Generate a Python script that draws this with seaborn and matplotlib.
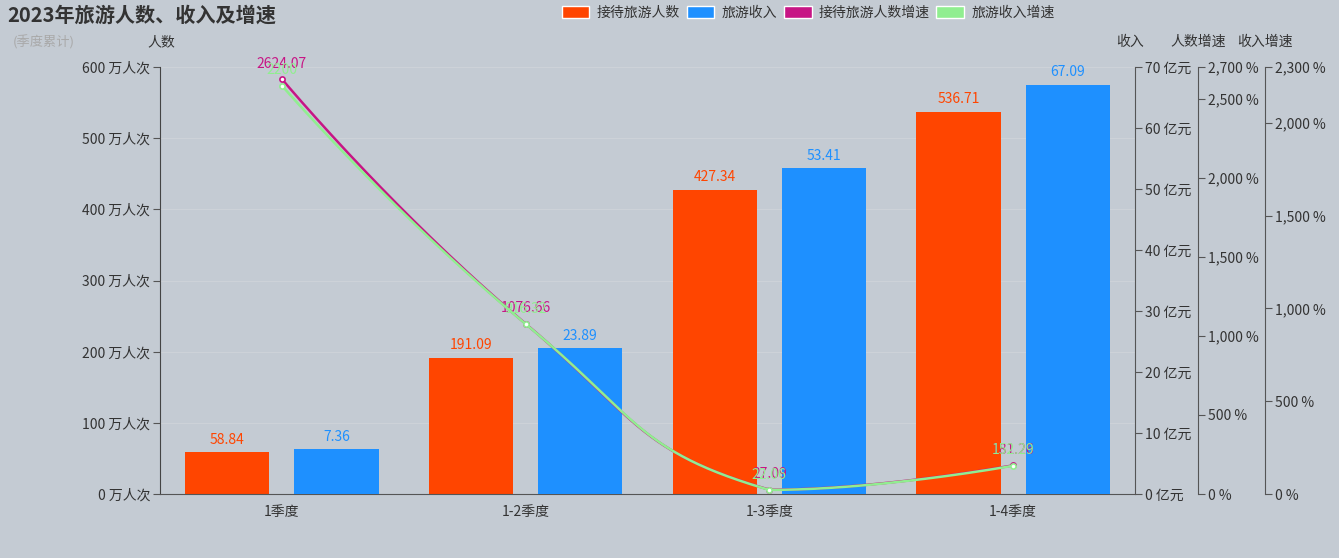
import numpy as np
import pandas as pd
import seaborn as sns
import matplotlib.pyplot as plt
from matplotlib.patches import Patch
from matplotlib.ticker import FuncFormatter, FixedLocator

# 2023年旅游人数、收入及增速（季度累计）
quarters = ['1季度', '1-2季度', '1-3季度', '1-4季度']
visitors = [58.84, 191.09, 427.34, 536.71]          # 万人次
income = [7.36, 23.89, 53.41, 67.09]                # 亿元
visitors_growth = [2624.07, 1076.66, 27.09, 181.26]  # %
income_growth = [2200, 916.32, 22.06, 152.29]        # %

sns.set_style('white')
plt.rcParams['font.family'] = ['Noto Sans CJK SC', 'DejaVu Sans']
plt.rcParams['axes.unicode_minus'] = False

bg = '#c4cbd3'
txt = '#333333'
c_vis, c_inc = '#ff4500', '#1e90ff'
c_vg, c_ig = '#c71585', '#90ee90'
fs = 10

df = pd.DataFrame({'季度': quarters, '人数': visitors, '收入': income,
                   '人数增速': visitors_growth, '收入增速': income_growth})
df['x'] = np.arange(len(df))

fig = plt.figure(figsize=(13.39, 5.58), dpi=100, facecolor=bg)
ax = fig.add_axes([160 / 1339, 64 / 558, 975 / 1339, 427 / 558], facecolor=bg)
ax_inc = ax.twinx()
ax_vg = ax.twinx()
ax_ig = ax.twinx()


def smooth(x, y, ymax, s=0.5, n=60):
    # bezier smoothing like echarts: control points from neighbours, clamped to data range
    x = np.asarray(x, float)
    y = np.asarray(y, float)
    sx, sy = 243.75, 427 / ymax
    px, py = x * sx, y * sy
    lo, hi = py.min(), py.max()
    N = len(px)
    cps = []
    for i in range(N):
        if i == 0 or i == N - 1:
            cps.append(((px[i], py[i]), (px[i], py[i])))
            continue
        vx = (px[i + 1] - px[i - 1]) * s
        vy = (py[i + 1] - py[i - 1]) * s
        d0 = np.hypot(px[i] - px[i - 1], py[i] - py[i - 1])
        d1 = np.hypot(px[i + 1] - px[i], py[i + 1] - py[i])
        r0, r1 = d0 / (d0 + d1), d1 / (d0 + d1)
        c0 = (px[i] - vx * r0, np.clip(py[i] - vy * r0, lo, hi))
        c1 = (px[i] + vx * r1, np.clip(py[i] + vy * r1, lo, hi))
        cps.append((c0, c1))
    t = np.linspace(0, 1, n)[:, None]
    out = []
    for i in range(N - 1):
        p0 = np.array([px[i], py[i]])
        p1 = np.array(cps[i][1])
        p2 = np.array(cps[i + 1][0])
        p3 = np.array([px[i + 1], py[i + 1]])
        out.append((1 - t)**3 * p0 + 3 * (1 - t)**2 * t * p1 + 3 * (1 - t) * t**2 * p2 + t**3 * p3)
    out = np.vstack(out)
    return out[:, 0] / sx, out[:, 1] / sy


w = 0.345
off = 0.224
b1 = ax.bar(df['x'] - off, df['人数'], width=w, color=c_vis, lw=0, zorder=2)
b2 = ax_inc.bar(df['x'] + off, df['收入'], width=w, color=c_inc, lw=0, zorder=2)
ax.bar_label(b1, labels=[f'{v:.2f}' for v in visitors], padding=4, color=c_vis, fontsize=fs)
ax_inc.bar_label(b2, labels=[f'{v:.2f}' for v in income], padding=4, color=c_inc, fontsize=fs)

for a, col, color, ymax in [(ax_ig, '收入增速', c_ig, 2300), (ax_vg, '人数增速', c_vg, 2700)]:
    sx, sy = smooth(df['x'], df[col], ymax)
    sns.lineplot(x=sx, y=sy, ax=a, color=color, lw=1.8, sort=False, zorder=3)
    a.scatter(df['x'], df[col], s=14, facecolor='white', edgecolor=color, lw=1.2, zorder=4)
    for xi, v in zip(df['x'], df[col]):
        lab = f'{v:.0f}' if v == int(v) else f'{v:.2f}'
        a.annotate(lab, (xi, v), xytext=(0, 6), textcoords='offset points',
                   ha='center', va='bottom', color=color, fontsize=fs, zorder=5)

# axes limits and ticks
ax.set_xlim(-0.5, 3.5)
ax.set_ylim(0, 600)
ax_inc.set_ylim(0, 70)
ax_vg.set_ylim(0, 2700)
ax_ig.set_ylim(0, 2300)

ax.set_xticks(df['x'])
ax.set_xticklabels(quarters, fontsize=fs, color=txt)
ax.xaxis.set_minor_locator(FixedLocator([0.5, 1.5, 2.5]))
ax.tick_params(axis='x', which='major', length=0, pad=8)
ax.tick_params(axis='x', which='minor', length=5, color='#555555', direction='out')
ax.set_yticks(range(0, 601, 100))
ax.yaxis.set_major_formatter(FuncFormatter(lambda v, p: f'{v:.0f} 万人次'))
ax.tick_params(axis='y', length=5, color='#555555', labelsize=fs, labelcolor=txt,
               direction='out', pad=2)
ax.yaxis.grid(True, color='#cdd2d8', lw=0.8)
ax.set_axisbelow(True)

ax_inc.set_yticks(range(0, 71, 10))
ax_inc.yaxis.set_major_formatter(FuncFormatter(lambda v, p: f'{v:.0f} 亿元'))
ax_vg.set_yticks([0, 500, 1000, 1500, 2000, 2500, 2700])
ax_vg.yaxis.set_major_formatter(FuncFormatter(lambda v, p: f'{v:,.0f} %'))
ax_ig.set_yticks([0, 500, 1000, 1500, 2000, 2300])
ax_ig.yaxis.set_major_formatter(FuncFormatter(lambda v, p: f'{v:,.0f} %'))

ax_vg.spines['right'].set_position(('axes', 1 + 63 / 975))
ax_ig.spines['right'].set_position(('axes', 1 + 130 / 975))

for a in [ax, ax_inc, ax_vg, ax_ig]:
    for s in a.spines.values():
        s.set_visible(False)
    a.set_ylabel('')
ax.spines['left'].set_visible(True)
ax.spines['bottom'].set_visible(True)
ax.spines['left'].set_color('#444444')
ax.spines['bottom'].set_color('#555555')
for a in [ax_inc, ax_vg, ax_ig]:
    a.spines['right'].set_visible(True)
    a.spines['right'].set_color('#555555')
    a.tick_params(axis='y', length=5, color='#555555', labelsize=fs, labelcolor=txt,
                  direction='out', pad=2)

# axis names
fig.text(161 / 1339, 1 - 42 / 558, '人数', ha='center', va='center', fontsize=fs, color=txt)
fig.text(1130 / 1339, 1 - 42 / 558, '收入', ha='center', va='center', fontsize=fs, color=txt)
fig.text(1198 / 1339, 1 - 42 / 558, '人数增速', ha='center', va='center', fontsize=fs, color=txt)
fig.text(1265 / 1339, 1 - 42 / 558, '收入增速', ha='center', va='center', fontsize=fs, color=txt)

# title
fig.text(7 / 1339, 1 - 15 / 558, '2023年旅游人数、收入及增速', ha='left', va='center',
         fontsize=14.5, fontweight='bold', color=txt)
fig.text(13 / 1339, 1 - 42 / 558, '(季度累计)', ha='left', va='center', fontsize=9.5, color='#a9a9a9')

handles = [Patch(facecolor=c_vis), Patch(facecolor=c_inc), Patch(facecolor=c_vg), Patch(facecolor=c_ig)]
names = ['接待旅游人数', '旅游收入', '接待旅游人数增速', '旅游收入增速']
fig.legend(handles, names, loc='center', bbox_to_anchor=(808 / 1339, 1 - 13 / 558), ncol=4,
           frameon=False, fontsize=fs, handlelength=2.0, handleheight=1.0,
           columnspacing=0.5, handletextpad=0.5, labelcolor=txt)

fig.savefig('out.png', dpi=100, facecolor=bg)
